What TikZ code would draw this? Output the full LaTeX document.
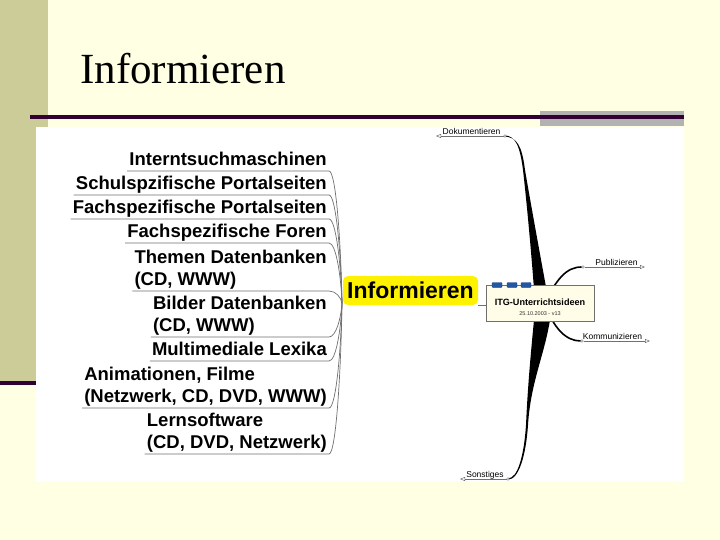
\documentclass[tikz,border=0pt]{standalone}
\usepackage{fontspec}
\setmainfont{Liberation Serif}
\newfontfamily\arialfont{Liberation Sans}
\usetikzlibrary{arrows.meta}

\definecolor{slidebg}{HTML}{FFFFE3}
\definecolor{olivebar}{HTML}{CCCC99}
\definecolor{darkplum}{HTML}{330033}
\definecolor{bargray}{HTML}{B2B2B2}
\definecolor{twiggray}{HTML}{707070}
\definecolor{notefill}{HTML}{FFFDE8}
\definecolor{iconblue}{HTML}{2257A3}
\definecolor{iconedge}{HTML}{163C78}

\tikzset{
  topic/.style={font=\arialfont\bfseries\fontsize{18.5}{22}\selectfont, align=left,
    anchor=south east, inner xsep=2pt, inner ysep=1.5pt, text depth=3.5pt},
  twig/.style={draw=twiggray, line width=0.7pt},
  leaf/.style={font=\arialfont\fontsize{8.5}{10}\selectfont, anchor=base, inner sep=0pt},
  leafline/.style={draw=twiggray, line width=0.5pt, -{Triangle[open,length=5pt,width=4pt]}},
  knot/.style={circle, draw=twiggray, fill=white, line width=0.4pt, inner sep=0pt, minimum size=2.6pt},
  icon/.style={draw=iconedge, fill=iconblue, rounded corners=1pt, minimum width=10pt,
    minimum height=5pt, inner sep=0pt}
}

\begin{document}
\begin{tikzpicture}[x=1pt,y=-1pt]
\useasboundingbox (0,0) rectangle (720,540);

% slide background
\fill[slidebg] (0,0) rectangle (720,540);
\fill[olivebar] (0,0) rectangle (48,383);
\fill[bargray] (540,111) rectangle (684,126);
\draw[darkplum, line width=3.5pt] (30,117) -- (684,117);
\draw[darkplum, line width=4pt] (0,383) -- (40,383);
\node[font=\fontsize{43}{50}\selectfont, anchor=base west, inner sep=0pt] (title) at (80,84) {Informieren};

% map area
\fill[white] (36,127) rectangle (684,481);

\node[topic] (t1) at (329,171) {Interntsuchmaschinen};
\node[topic] (t2) at (329,195) {Schulspzifische Portalseiten};
\node[topic] (t3) at (329,219) {Fachspezifische Portalseiten};
\node[topic] (t4) at (329,243) {Fachspezifische Foren};
\node[topic] (t5) at (329,291) {Themen Datenbanken\\(CD, WWW)};
\node[topic] (t6) at (329,337) {Bilder Datenbanken\\(CD, WWW)};
\node[topic] (t7) at (329,361) {Multimediale Lexika};
\node[topic] (t8) at (329,408) {Animationen, Filme\\(Netzwerk, CD, DVD, WWW)};
\node[topic] (t9) at (329,454) {Lernsoftware\\(CD, DVD, Netzwerk)};

\coordinate (root) at (342,303);
\foreach \n/\y in {t1/171,t2/195,t3/219,t4/243,t5/291,t6/337,t7/361,t8/408,t9/454}
  \draw[twig] (\n.south west) -- (\n.south east) .. controls (336,\y) and (341,{\y+0.55*(303-\y)}) .. (root);

\node[fill=yellow, rounded corners=5pt, font=\arialfont\bfseries\fontsize{23}{26}\selectfont,
  minimum width=135pt, minimum height=29pt, inner sep=0pt] (info) at (410.5,290.5) {Informieren};

% main branches
\coordinate (hub) at (545,303);
\fill (504,135.4) .. controls (516,135.4) and (520,147) .. (523,170)
  .. controls (527,205) and (532,260) .. (535,303) -- (549,303)
  .. controls (541,260) and (531,205) .. (525,170)
  .. controls (522,146) and (517,136.6) .. (504,136.6) -- cycle;
\fill (536,300) .. controls (532,340) and (528,380) .. (526,425)
  .. controls (524,455) and (518,478.4) .. (508,478.4) -- (508,479.6)
  .. controls (519,479.6) and (526,455) .. (528,425)
  .. controls (531,375) and (550,345) .. (552,300) -- cycle;

\node[knot] (dokj) at (505,136) {};
\node[knot] (sonj) at (508,479) {};
\node[knot] (pubj) at (583,267) {};
\node[knot] (komj) at (582,341) {};

\draw[line width=1.6pt] (hub) .. controls (556,280) and (566,267) .. (pubj);
\draw[line width=1.6pt] (hub) .. controls (553,328) and (566,341) .. (komj);

\node[draw=twiggray, fill=notefill, line width=0.6pt, minimum width=108pt, minimum height=36pt,
  inner sep=0pt] (itg) at (540,303) {};
\node[font=\arialfont\bfseries\fontsize{9.1}{11}\selectfont, inner sep=0pt] (itgname) at (540,302) {ITG-Unterrichtsideen};
\node[font=\arialfont\fontsize{5.5}{7}\selectfont, text=black!80, inner sep=0pt] (itgdate) at (540,314) {25.10.2003 - v13};
\foreach \i/\x in {1/497,2/512,3/526}
  \node[icon] (icon\i) at (\x,285) {};

\draw[twig] (info.south east) -- (info.south east -| itg.west);

% leaves
\coordinate (doktip) at (436,136);
\coordinate (sontip) at (460,479);
\coordinate (pubtip) at (645,267);
\coordinate (komtip) at (650,341);
\draw[leafline] (dokj) -- (doktip);
\draw[leafline] (sonj) -- (sontip);
\draw[leafline] (pubj) -- (pubtip);
\draw[leafline] (komj) -- (komtip);
\node[leaf] (dok) at (471.5,134.5) {Dokumentieren};
\node[leaf] (son) at (485,477.5) {Sonstiges};
\node[leaf] (pub) at (616.5,265.5) {Publizieren};
\node[leaf] (kom) at (612.5,339.5) {Kommunizieren};
\end{tikzpicture}
\end{document}
